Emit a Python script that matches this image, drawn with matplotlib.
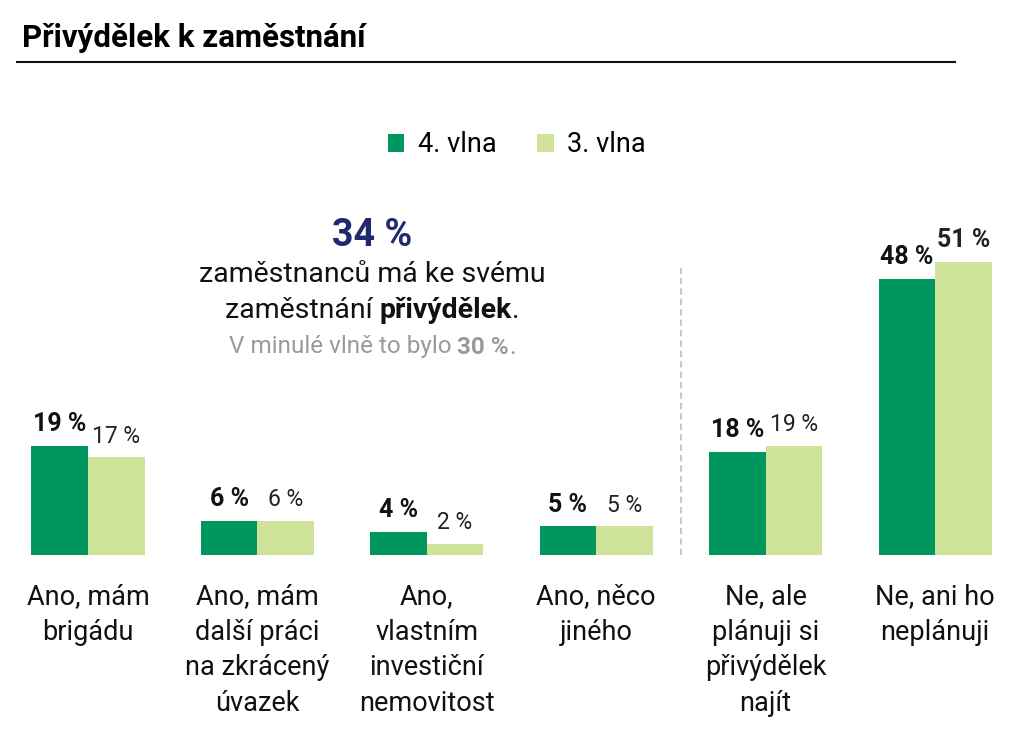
import matplotlib
matplotlib.use("Agg")
import matplotlib.pyplot as plt
import numpy as np

plt.rcParams['font.family'] = ['Roboto', 'DejaVu Sans']

categories = ["Ano, mám\nbrigádu",
              "Ano, mám\ndalší práci\nna zkrácený\núvazek",
              "Ano,\nvlastním\ninvestiční\nnemovitost",
              "Ano, něco\njiného",
              "Ne, ale\nplánuji si\npřivýdělek\nnajít",
              "Ne, ani ho\nneplánuji"]
wave4 = [19, 6, 4, 5, 18, 48]
wave3 = [17, 6, 2, 5, 19, 51]
series_names = ["4. vlna", "3. vlna"]
title = "Přivýdělek k zaměstnání"

DARK = "#00965e"
LIGHT = "#cfe29a"

W, H = 1023, 746
fig = plt.figure(figsize=(W / 100, H / 100), dpi=100)

# axes mapping
ax = fig.add_axes([0, (H - 555) / H, 1, 345 / H])
x = np.arange(len(categories))
px0, step = 88, 169.4
ax.set_xlim(-px0 / step, (W - px0) / step)
ax.set_ylim(0, 60)
ax.axis('off')

bw = 56.5 / step
b1 = ax.bar(x - bw / 2, wave4, bw, color=DARK, label=series_names[0])
b2 = ax.bar(x + bw / 2, wave3, bw, color=LIGHT, label=series_names[1])

for i, (v4, v3) in enumerate(zip(wave4, wave3)):
    ax.annotate(f"{v4} %", (x[i] - bw / 2, v4), xytext=(0, 7), textcoords='offset points',
                ha='center', va='bottom', fontsize=18, fontweight='bold', color='#111111')
    bold3 = v3 > 50
    ax.annotate(f"{v3} %", (x[i] + bw / 2, v3), xytext=(0, 7), textcoords='offset points',
                ha='center', va='bottom', fontsize=18 if bold3 else 16.5,
                fontweight='bold' if bold3 else 'normal', color='#222222')
    ax.annotate(categories[i], (x[i], 0), xytext=(0, -20), textcoords='offset points',
                ha='center', va='top', fontsize=19.5, color='#111111', linespacing=1.42)

# separator
ax.plot([3.5, 3.5], [0, 50], color='#c8c8c8', lw=1.5, ls=(0, (3, 2)), clip_on=False)

# title and rule
fig.text(22 / W, 1 - 38 / H, title, fontsize=22.5, fontweight='bold', va='center', ha='left')
fig.add_artist(plt.Line2D([17 / W, 955 / W], [1 - 62 / H, 1 - 62 / H], color='#111111', lw=1.5))

# legend
leg = fig.legend(handles=[b1, b2], loc='center', bbox_to_anchor=(517 / W, 1 - 145 / H),
                 ncol=2, frameon=False, fontsize=19.5, handlelength=0.6, handleheight=0.6,
                 handletextpad=0.5, columnspacing=1.5)

# annotation block
cx = 372 / W
fig.text(cx, 1 - 235 / H, "34 %", fontsize=27, fontweight='bold', color='#1f2a6e',
         ha='center', va='center')
fig.text(cx, 1 - 275 / H, "zaměstnanců má ke svému", fontsize=20.5, color='#111111',
         ha='center', va='center')

fig.canvas.draw()
renderer = fig.canvas.get_renderer()


def mixed_line(parts, y, size, color):
    texts = []
    widths = []
    for s, w in parts:
        t = fig.text(0, y, s, fontsize=size, fontweight=w, color=color, ha='left', va='center')
        widths.append(t.get_window_extent(renderer).width / W)
        texts.append(t)
    total = sum(widths)
    xx = cx - total / 2
    for t, w in zip(texts, widths):
        t.set_x(xx)
        xx += w


mixed_line([("zaměstnání ", 'normal'), ("přivýdělek", 'bold'), (".", 'normal')],
           1 - 311 / H, 20.5, '#111111')
mixed_line([("V minulé vlně to bylo ", 'normal'), ("30 %", 'bold'), (".", 'normal')],
           1 - 347 / H, 17.5, '#9a9a9a')

fig.savefig("out.png", dpi=100, facecolor='white')
